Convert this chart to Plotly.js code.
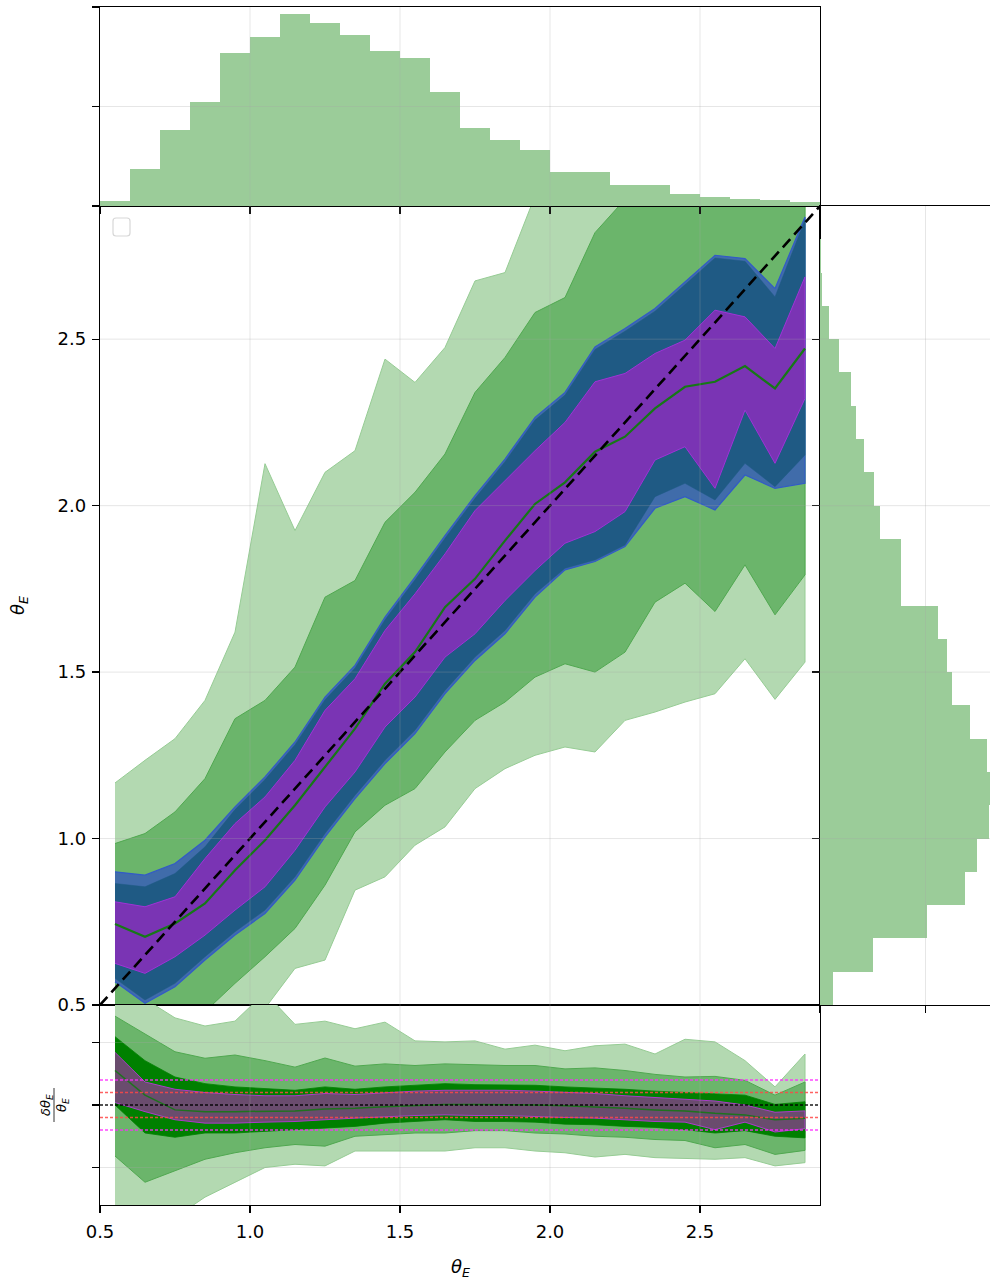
<!DOCTYPE html>
<html><head><meta charset="utf-8">
<script src="https://cdn.plot.ly/plotly-3.0.1.min.js"></script>
<style>html,body{margin:0;padding:0;background:#fff;} #chart{width:990px;height:1281px;}</style>
</head><body><div id="chart"></div>
<script>
// ---------- data ----------
const binCenters = [0.55,0.65,0.75,0.85,0.95,1.05,1.15,1.25,1.35,1.45,1.55,1.65,1.75,1.85,1.95,2.05,2.15,2.25,2.35,2.45,2.55,2.65,2.75,2.85];
// top histogram (true theta_E), right histogram (predicted theta_E)
const trueHist = [0.054,0.371,0.762,1.049,1.535,1.703,1.926,1.838,1.723,1.555,1.484,1.150,0.779,0.661,0.560,0.341,0.341,0.209,0.209,0.125,0.091,0.071,0.057,0.040];
const predHist = [0.12,0.50,1.01,1.376,1.487,1.60,1.615,1.583,1.424,1.248,1.20,1.121,0.771,0.771,0.564,0.516,0.420,0.341,0.293,0.18,0.086,0.022,0.008,0.004];
// main panel quantile bands
const lgHi = [1.167,1.235,1.30,1.415,1.62,2.126,1.925,2.10,2.165,2.44,2.37,2.475,2.675,2.70,2.93,3.05,3.12,3.2,3.25,3.3,3.35,3.4,3.4,3.45];
const lgLo = [0.15,0.22,0.28,0.35,0.42,0.49,0.61,0.635,0.845,0.885,0.98,1.035,1.15,1.21,1.25,1.275,1.26,1.355,1.38,1.41,1.435,1.54,1.418,1.53];
const mgHi = [0.985,1.015,1.08,1.18,1.36,1.415,1.515,1.725,1.775,1.95,2.04,2.155,2.34,2.445,2.58,2.625,2.82,2.92,3.0,3.05,3.1,3.15,3.15,3.2];
const mgLo = [0.3,0.35,0.41,0.48,0.565,0.645,0.73,0.86,1.02,1.10,1.15,1.26,1.355,1.41,1.485,1.525,1.50,1.56,1.71,1.767,1.682,1.822,1.672,1.792];
const blHi = [0.90,0.89,0.925,0.995,1.095,1.185,1.29,1.425,1.52,1.665,1.785,1.91,2.03,2.14,2.265,2.34,2.477,2.532,2.592,2.672,2.752,2.742,2.652,2.867];
const blLo = [0.57,0.505,0.555,0.635,0.71,0.775,0.875,1.005,1.12,1.225,1.315,1.435,1.535,1.615,1.725,1.807,1.832,1.877,1.992,2.027,1.987,2.092,2.052,2.067];
const bdHi = [0.865,0.855,0.895,0.975,1.087,1.177,1.282,1.417,1.512,1.657,1.777,1.902,2.022,2.132,2.257,2.332,2.469,2.524,2.584,2.664,2.744,2.734,2.627,2.859];
const bdLo = [0.58,0.515,0.565,0.645,0.72,0.785,0.885,1.015,1.13,1.235,1.325,1.445,1.545,1.625,1.735,1.812,1.837,1.882,2.027,2.067,2.017,2.127,2.057,2.152];
const puHi = [0.81,0.795,0.825,0.94,1.045,1.125,1.235,1.385,1.48,1.625,1.735,1.855,1.985,2.075,2.165,2.25,2.372,2.397,2.457,2.497,2.587,2.567,2.472,2.687];
const puLo = [0.625,0.595,0.645,0.71,0.785,0.855,0.965,1.095,1.2,1.335,1.425,1.545,1.615,1.715,1.805,1.887,1.922,1.982,2.137,2.177,2.052,2.287,2.127,2.322];
const medPred = [0.743,0.705,0.745,0.805,0.905,0.995,1.10,1.215,1.33,1.465,1.56,1.695,1.78,1.895,2.005,2.07,2.162,2.207,2.292,2.357,2.372,2.419,2.352,2.472];
const identity = [0.5, 2.9];
// residual panel bands
const rLgHi = [1.0,0.85,0.697,0.632,0.671,0.9,0.645,0.671,0.61,0.663,0.513,0.505,0.513,0.447,0.479,0.434,0.474,0.487,0.408,0.526,0.505,0.355,0.145,0.408];
const rLgLo = [-1.2,-1.0,-0.9,-0.737,-0.618,-0.50,-0.474,-0.487,-0.368,-0.368,-0.368,-0.368,-0.342,-0.342,-0.368,-0.382,-0.416,-0.395,-0.421,-0.426,-0.434,-0.421,-0.487,-0.461];
const rMgHi = [0.711,0.566,0.426,0.374,0.400,0.355,0.303,0.376,0.311,0.329,0.316,0.329,0.321,0.316,0.316,0.289,0.297,0.276,0.245,0.224,0.229,0.197,0.079,0.184];
const rMgLo = [-0.408,-0.618,-0.526,-0.434,-0.382,-0.342,-0.316,-0.329,-0.25,-0.237,-0.224,-0.224,-0.205,-0.205,-0.224,-0.232,-0.25,-0.258,-0.276,-0.284,-0.342,-0.316,-0.395,-0.363];
const rDgHi = [0.547,0.355,0.224,0.171,0.145,0.132,0.118,0.145,0.126,0.145,0.158,0.171,0.163,0.163,0.158,0.145,0.137,0.126,0.111,0.100,0.092,0.079,0.005,0.026];
const rDgLo = [0.0,-0.224,-0.258,-0.224,-0.224,-0.211,-0.197,-0.184,-0.171,-0.145,-0.132,-0.118,-0.132,-0.132,-0.137,-0.153,-0.158,-0.171,-0.179,-0.197,-0.224,-0.205,-0.25,-0.263];
const rPuHi = [0.421,0.184,0.126,0.1,0.084,0.074,0.074,0.092,0.084,0.1,0.111,0.118,0.118,0.118,0.111,0.1,0.092,0.074,0.058,0.047,0.032,0.0,-0.058,-0.047];
const rPuLo = [0.02,-0.053,-0.118,-0.145,-0.145,-0.137,-0.132,-0.118,-0.105,-0.092,-0.084,-0.079,-0.084,-0.084,-0.092,-0.1,-0.105,-0.118,-0.132,-0.137,-0.197,-0.137,-0.216,-0.189];
const rMed = [0.276,0.079,-0.039,-0.053,-0.053,-0.053,-0.047,-0.032,-0.026,-0.013,-0.005,0.005,0.005,0.005,0,-0.005,-0.013,-0.026,-0.039,-0.047,-0.066,-0.079,-0.118,-0.105];
// ticks & reference levels
const thetaTicks = [0.5,1.0,1.5,2.0,2.5];
const thetaTickText = ["0.5","1.0","1.5","2.0","2.5"];
const thetaGrid = [1.0,1.5,2.0,2.5];
const histTicks = [0,1,2];
const predHistTicks = [0,1];
const resTicks = [-0.5,0,0.5];
const zeroLevel = [0];
const redLevels = [-0.1,0.1];
const magentaLevels = [-0.2,0.2];

// ---------- geometry (pixels -> paper) ----------
const W = 990, H = 1281;
const px = v => v / W, py = v => 1 - v / H;
const mainXDom = [px(100), px(820)];
const rightXDom = [px(820), 1];
const topYDom = [py(206), py(7)];
const mainYDom = [py(1005), py(206)];
const resYDom = [py(1205), py(1005)];

function band(x, hi, lo, fill, lc, lw, xa, ya) {
  return {type:'scatter', mode:'lines', x: x.concat(x.slice().reverse()),
    y: hi.concat(lo.slice().reverse()), fill:'toself', fillcolor: fill,
    line:{color: lc, width: lw}, xaxis: xa, yaxis: ya, hoverinfo:'skip', showlegend:false};
}

const LG = 'rgb(179,217,177)', MG = 'rgb(107,181,107)';
const traces = [
  {type:'bar', x: binCenters, y: trueHist, width: 0.1, marker:{color:'rgb(155,204,153)', line:{width:0}},
   xaxis:'x2', yaxis:'y2', hoverinfo:'skip', showlegend:false},
  {type:'bar', orientation:'h', y: binCenters, x: predHist, width: 0.1, marker:{color:'rgb(155,204,153)', line:{width:0}},
   xaxis:'x4', yaxis:'y4', hoverinfo:'skip', showlegend:false},
  band(binCenters, lgHi, lgLo, LG, 'rgb(150,204,148)', 1, 'x', 'y'),
  band(binCenters, mgHi, mgLo, MG, 'rgb(80,168,80)', 1, 'x', 'y'),
  band(binCenters, blHi, blLo, 'rgb(64,108,170)', 'rgb(50,90,200)', 1.2, 'x', 'y'),
  band(binCenters, bdHi, bdLo, 'rgb(31,90,132)', 'rgb(31,90,132)', 0.5, 'x', 'y'),
  band(binCenters, puHi, puLo, 'rgb(122,52,180)', 'rgb(160,50,215)', 1, 'x', 'y'),
  {type:'scatter', mode:'lines', x: binCenters, y: medPred, line:{color:'rgb(22,120,22)', width:2.2},
   xaxis:'x', yaxis:'y', hoverinfo:'skip', showlegend:false},
  {type:'scatter', mode:'lines', x: identity, y: identity, line:{color:'black', width:2.6, dash:'11px,6px'},
   xaxis:'x', yaxis:'y', hoverinfo:'skip', showlegend:false},
  band(binCenters, rLgHi, rLgLo, LG, 'rgb(150,204,148)', 1, 'x3', 'y3'),
  band(binCenters, rMgHi, rMgLo, MG, 'rgb(80,168,80)', 1, 'x3', 'y3'),
  band(binCenters, rDgHi, rDgLo, 'rgb(0,128,0)', 'rgb(0,128,0)', 0.8, 'x3', 'y3'),
  band(binCenters, rPuHi, rPuLo, 'rgb(106,76,110)', 'rgb(170,60,200)', 1, 'x3', 'y3'),
  {type:'scatter', mode:'lines', x: binCenters, y: rMed, line:{color:'rgb(30,115,30)', width:1.5},
   xaxis:'x3', yaxis:'y3', hoverinfo:'skip', showlegend:false}
];

// ---------- shapes ----------
const shapes = [];
const gridStyle = {color:'rgba(165,165,165,0.28)', width:1};
thetaGrid.forEach(v => {
  ['y','y2','y3'].forEach((ya, i) => {
    const xa = ['x','x2','x3'][i];
    shapes.push({type:'line', xref: xa, yref: ya + ' domain', x0: v, x1: v, y0: 0, y1: 1, line: gridStyle, layer:'above'});
  });
  shapes.push({type:'line', xref:'x domain', yref:'y', x0:0, x1:1, y0:v, y1:v, line:gridStyle, layer:'above'});
  shapes.push({type:'line', xref:'x4 domain', yref:'y4', x0:0, x1:1, y0:v, y1:v, line:gridStyle, layer:'above'});
});
histTicks.slice(1, -1).forEach(v => shapes.push({type:'line', xref:'x2 domain', yref:'y2', x0:0, x1:1, y0:v, y1:v, line:gridStyle, layer:'above'}));
predHistTicks.slice(1).forEach(v => shapes.push({type:'line', xref:'x4', yref:'y4 domain', x0:v, x1:v, y0:0, y1:1, line:gridStyle, layer:'above'}));
resTicks.filter(v => v !== 0).forEach(v => shapes.push({type:'line', xref:'x3 domain', yref:'y3', x0:0, x1:1, y0:v, y1:v, line:gridStyle, layer:'above'}));
magentaLevels.forEach(v => shapes.push({type:'line', xref:'x3 domain', yref:'y3', x0:0, x1:1, y0:v, y1:v, line:{color:'rgba(255,40,255,0.85)', width:1.3, dash:'3px,2px'}, layer:'above'}));
redLevels.forEach(v => shapes.push({type:'line', xref:'x3 domain', yref:'y3', x0:0, x1:1, y0:v, y1:v, line:{color:'rgba(255,70,70,0.85)', width:1.3, dash:'3px,2px'}, layer:'above'}));
zeroLevel.forEach(v => shapes.push({type:'line', xref:'x3 domain', yref:'y3', x0:0, x1:1, y0:v, y1:v, line:{color:'rgba(0,0,0,0.9)', width:1.3, dash:'3px,2px'}, layer:'above'}));
(function(){
  const x0 = px(113), x1 = px(130), yT = py(218), yB = py(236), rx = 3/W, ry = 3/H;
  const p = `M ${x0+rx},${yT} L ${x1-rx},${yT} Q ${x1},${yT} ${x1},${yT-ry} L ${x1},${yB+ry} Q ${x1},${yB} ${x1-rx},${yB} L ${x0+rx},${yB} Q ${x0},${yB} ${x0},${yB+ry} L ${x0},${yT-ry} Q ${x0},${yT} ${x0+rx},${yT} Z`;
  shapes.push({type:'path', xref:'paper', yref:'paper', path:p, fillcolor:'rgba(255,255,255,0.8)', line:{color:'rgb(215,215,215)', width:1.2}, layer:'above'});
})();
shapes.push({type:'line', xref:'paper', yref:'paper', x0:px(54), x1:px(54), y0:py(1088), y1:py(1122), line:{color:'black', width:0.8}});

// ---------- axes ----------
const tf = {family:'DejaVu Sans', size:18, color:'black'};
const base = {showline:true, linecolor:'black', linewidth:1.2, ticks:'outside', ticklen:7, tickwidth:1.2,
  tickcolor:'black', showgrid:false, zeroline:false, tickfont:tf, automargin:false, fixedrange:true};

const layout = {
  width: W, height: H, margin:{l:0, r:0, t:0, b:0}, paper_bgcolor:'white', plot_bgcolor:'rgba(0,0,0,0)',
  showlegend:false, bargap:0, font:{family:'DejaVu Sans', color:'black'},
  xaxis: Object.assign({}, base, {domain: mainXDom, anchor:'y', range:[0.5,2.9], tickvals: thetaTicks, ticks:'', showticklabels:false, mirror:true}),
  yaxis: Object.assign({}, base, {domain: mainYDom, anchor:'x', range:[0.5,2.9], tickvals: thetaTicks, ticktext: thetaTickText, mirror:true, ticklabelstandoff:2}),
  xaxis2: Object.assign({}, base, {domain: mainXDom, anchor:'y2', range:[0.5,2.9], tickvals: thetaTicks, showticklabels:false, mirror:true}),
  yaxis2: Object.assign({}, base, {domain: topYDom, anchor:'x2', range:[0,2], tickvals: histTicks, showticklabels:false, mirror:true}),
  xaxis3: Object.assign({}, base, {domain: mainXDom, anchor:'y3', range:[0.5,2.9], tickvals: thetaTicks, ticktext: thetaTickText, mirror:true, ticklabelstandoff:3}),
  yaxis3: Object.assign({}, base, {domain: resYDom, anchor:'x3', range:[-0.8,0.8], tickvals: resTicks, showticklabels:false, mirror:true}),
  xaxis4: Object.assign({}, base, {domain: rightXDom, anchor:'y4', range:[0, 170/105.5], tickvals: predHistTicks, showticklabels:false, mirror:true}),
  yaxis4: Object.assign({}, base, {domain: mainYDom, anchor:'x4', range:[0.5,2.9], tickvals: thetaTicks, showticklabels:false, mirror:false}),
  shapes: shapes,
  annotations: [
    {text:'<i>θ</i><sub><i>E</i></sub>', xref:'paper', yref:'paper', x:px(19), y:py(606), textangle:-90, showarrow:false,
     font:{family:'DejaVu Sans', size:18, color:'black'}, xanchor:'center', yanchor:'middle'},
    {text:'<i>θ</i><sub><i>E</i></sub>', xref:'paper', yref:'paper', x:px(460), y:py(1268), showarrow:false,
     font:{family:'DejaVu Sans', size:18, color:'black'}, xanchor:'center', yanchor:'middle'},
    {text:'<i>δθ</i><sub><i>E</i></sub>', xref:'paper', yref:'paper', x:px(46), y:py(1105), textangle:-90, showarrow:false,
     font:{family:'DejaVu Sans', size:13, color:'black'}, xanchor:'center', yanchor:'middle'},
    {text:'<i>θ</i><sub><i>E</i></sub>', xref:'paper', yref:'paper', x:px(62), y:py(1105), textangle:-90, showarrow:false,
     font:{family:'DejaVu Sans', size:13, color:'black'}, xanchor:'center', yanchor:'middle'}
  ]
};

Plotly.newPlot('chart', traces, layout, {displayModeBar:false, staticPlot:true});
</script>
</body></html>
